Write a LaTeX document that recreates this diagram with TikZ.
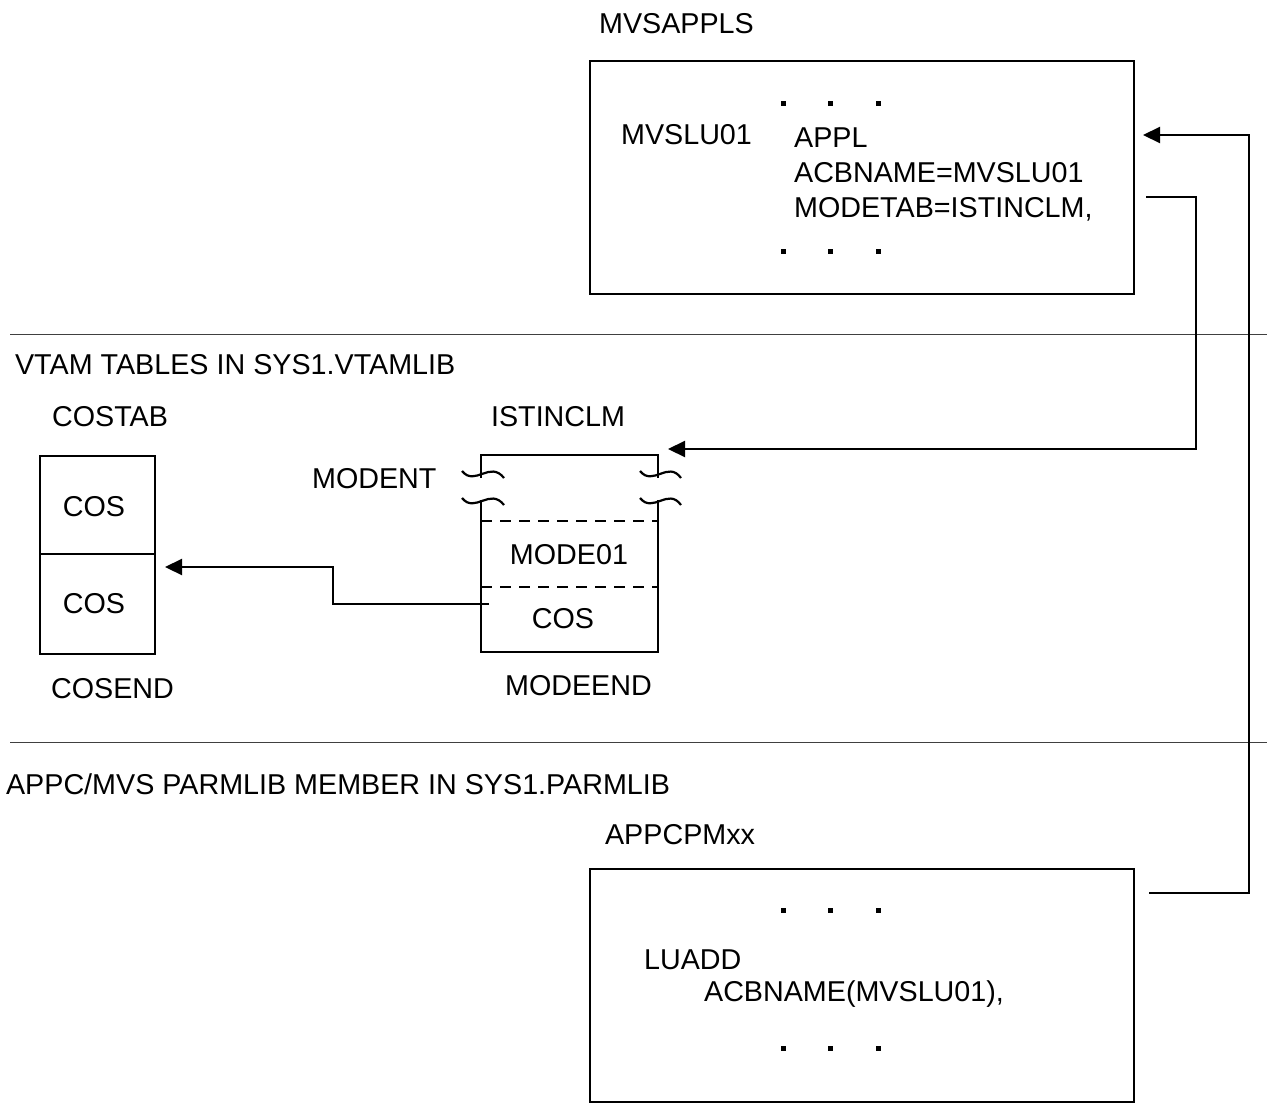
\documentclass[tikz,border=0pt]{standalone}
\usepackage{fontspec}
\setmainfont{Liberation Sans}
\usetikzlibrary{arrows.meta}
\begin{document}
\begin{tikzpicture}[x=1pt,y=-1pt,line width=2.2pt,
  lbl/.style={anchor=base west,inner sep=0pt,yshift=-1.5pt,font=\fontsize{28.7}{33}\selectfont},
  clbl/.style={anchor=base,inner sep=0pt,yshift=-1.5pt,font=\fontsize{28.7}{33}\selectfont},
  boxnode/.style={draw,anchor=north west,inner sep=0pt,line width=2.2pt},
  sep/.style={line width=1pt,black!75},
  arr/.style={-{Triangle[length=17pt,width=16pt]},line width=2.2pt},
  dotsq/.style={fill=black,minimum size=5pt,inner sep=0pt,draw=none},
  wave/.style={line width=2.2pt},
  dashline/.style={dash pattern=on 11pt off 8pt,line width=2.2pt}
]
\useasboundingbox (0,0) rectangle (1267,1103);

% ---------- top box ----------
\node[lbl] (mvsappls) at (598,32) {MVSAPPLS};
\node[boxnode,minimum width=544pt,minimum height=233pt] (topbox) at (589,60) {};
\node[lbl] (mvslu) at (620,143) {MVSLU01};
\node[lbl] (appl) at (793,146) {APPL};
\node[lbl] (acb) at (793,181) {ACBNAME=MVSLU01};
\node[lbl] (modetab) at (793,216) {MODETAB=ISTINCLM,};
\foreach \x/\n in {783/a,830/b,878/c}{
  \node[dotsq] (td\n) at (\x,103) {};
  \node[dotsq] (bd\n) at (\x,251) {};
}

% ---------- separators ----------
\coordinate (s1a) at (10,334); \coordinate (s1b) at (1267,334);
\coordinate (s2a) at (10,742); \coordinate (s2b) at (1267,742);
\draw[sep] (s1a) -- (s1b);
\draw[sep] (s2a) -- (s2b);

% ---------- VTAM section ----------
\node[lbl] (vtam) at (14,373) {VTAM TABLES IN SYS1.VTAMLIB};
\node[lbl] (costab) at (51,425) {COSTAB};
\node[boxnode,minimum width=115pt,minimum height=98pt] (cos1) at (39,455) {};
\node[boxnode,minimum width=115pt,minimum height=100pt] (cos2) at (39,553) {};
\node[clbl] (cos1t) at (94,515) {COS};
\node[clbl] (cos2t) at (94,612) {COS};
\node[lbl] (cosend) at (50,697) {COSEND};

\node[lbl] (istinclm) at (490,425) {ISTINCLM};
\node[lbl] (modent) at (311,487) {MODENT};
% mode table box (broken sides)
\draw (481,478) -- (481,455) -- (658,455) -- (658,478);
\draw (481,500) -- (481,652) -- (658,652) -- (658,500);
\draw[wave] (462,471) .. controls (475,487) and (490,460) .. (504,478);
\draw[wave] (462,498) .. controls (475,514) and (490,487) .. (504,505);
\draw[wave] (640,471) .. controls (653,487) and (668,460) .. (681,478);
\draw[wave] (640,498) .. controls (653,514) and (668,487) .. (681,505);
\draw[dashline] (481,521) -- (658,521);
\draw[dashline] (481,587) -- (658,587);
\node[clbl] (mode01) at (569,563) {MODE01};
\node[clbl] (cos3) at (563,627) {COS};
\node[lbl] (modeend) at (504,694) {MODEEND};

% ---------- APPC section ----------
\node[lbl] (appcmvs) at (5,793) {APPC/MVS PARMLIB MEMBER IN SYS1.PARMLIB};
\node[lbl] (appcpm) at (604,843) {APPCPMxx};
\node[boxnode,minimum width=544pt,minimum height=233pt] (botbox) at (589,868) {};
\node[lbl] (luadd) at (643,968) {LUADD};
\node[lbl] (acb2) at (703,1000) {ACBNAME(MVSLU01),};
\foreach \x/\n in {783/a,830/b,878/c}{
  \node[dotsq] (ed\n) at (\x,910) {};
  \node[dotsq] (fd\n) at (\x,1048) {};
}

% ---------- connectors ----------
\coordinate (c1s) at (1149,893);
\coordinate (c1e) at (1143,135);
\draw[arr] (c1s) -- (1249,893) -- (1249,135) -- (c1e);

\coordinate (c2s) at (1146,197);
\coordinate (c2e) at (668,449);
\draw[arr] (c2s) -- (1196,197) -- (1196,449) -- (c2e);

\coordinate (c3s) at (489,604);
\coordinate (c3e) at (165,567);
\draw[arr] (c3s) -- (333,604) -- (333,567) -- (c3e);
\end{tikzpicture}
\end{document}
